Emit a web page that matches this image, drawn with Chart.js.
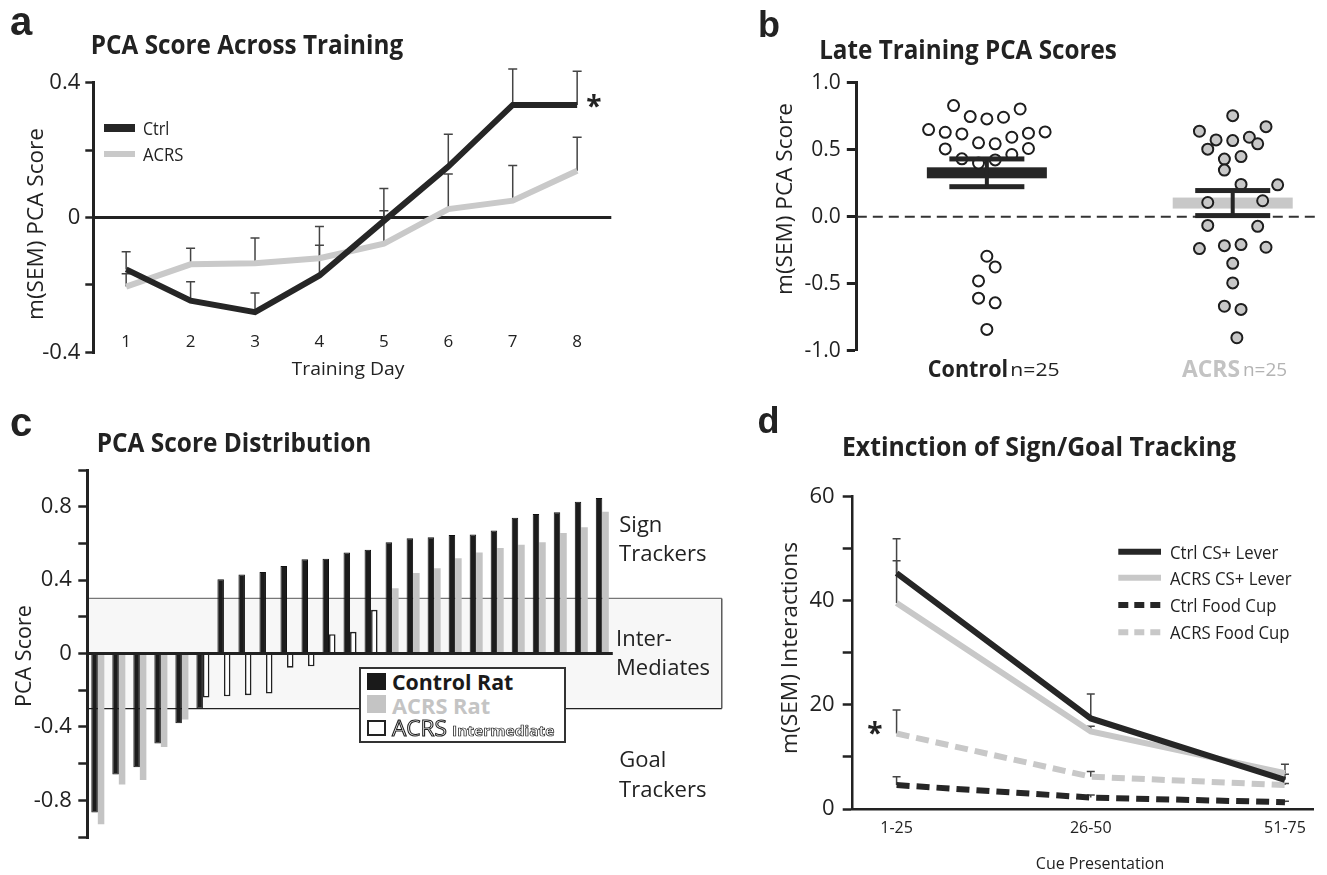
<!DOCTYPE html>
<html><head><meta charset="utf-8">
<script src="https://cdn.jsdelivr.net/npm/chart.js@4.4.1/dist/chart.umd.min.js"></script>
<style>
html,body{margin:0;padding:0;background:#fff;}
#root{position:relative;width:1327px;height:875px;overflow:hidden;font-family:'Open Sans',sans-serif;color:#222;}
canvas{position:absolute;}
.t{position:absolute;white-space:nowrap;line-height:1;}
.r{position:absolute;}
.o{color:#fff;-webkit-text-stroke:1px #222;will-change:transform;-webkit-font-smoothing:antialiased;}
</style></head><body><div id="root">
<canvas id="ca" width="660" height="420" style="left:0;top:0"></canvas>
<canvas id="cb" width="667" height="420" style="left:660px;top:0"></canvas>
<canvas id="cc" width="730" height="455" style="left:0;top:420px"></canvas>
<canvas id="cd" width="597" height="455" style="left:730px;top:420px"></canvas>

<!-- panel a -->
<div class="t" data-x="21" data-y="20.5" style="font:bold 40px 'Liberation Sans',Arial,sans-serif">a</div>
<div class="t" data-x="246.6" data-y="43" data-w="312" style="font:bold 27px 'Open Sans'">PCA Score Across Training</div>
<div class="t" data-x="33.7" data-y="224" data-w="192" data-rot="1" style="font:22px 'Open Sans'">m(SEM) PCA Score</div>
<div class="t" data-x="348" data-y="368" data-w="113" style="font:19px 'Open Sans'">Training Day</div>
<div class="r" style="left:104.3px;top:123.5px;width:30.7px;height:8.3px;background:#262626"></div>
<div class="r" style="left:104.3px;top:150.5px;width:30.7px;height:6.5px;background:#c9c9c9"></div>
<div class="t" data-a="l" data-x="143.3" data-y="127.7" data-w="26.7" style="font:18px 'Open Sans'">Ctrl</div>
<div class="t" data-a="l" data-x="143.3" data-y="154.3" data-w="40.7" style="font:18px 'Open Sans'">ACRS</div>
<div class="t" data-x="594" data-y="105" style="font:bold 28px 'Open Sans'">*</div>

<!-- panel b -->
<div class="t" data-x="769" data-y="25" style="font:bold 36px 'Liberation Sans',Arial,sans-serif">b</div>
<div class="t" data-x="968" data-y="48.3" data-w="298" style="font:bold 27px 'Open Sans'">Late Training PCA Scores</div>
<div class="t" data-x="783" data-y="199" data-w="192" data-rot="1" style="font:22px 'Open Sans'">m(SEM) PCA Score</div>
<div class="t" data-x="967.7" data-y="367" data-w="80" style="font:bold 24px 'Open Sans'">Control</div>
<div class="t" data-x="1035" data-y="369" data-w="49" style="font:19px 'Open Sans'">n=25</div>
<div class="t" data-x="1211" data-y="367" data-w="58" style="font:bold 24px 'Open Sans';color:#c3c3c3">ACRS</div>
<div class="t" data-x="1265" data-y="369" data-w="44" style="font:19px 'Open Sans';color:#b3b3b3">n=25</div>

<!-- panel c -->
<div class="t" data-x="21" data-y="421.5" style="font:bold 40px 'Liberation Sans',Arial,sans-serif">c</div>
<div class="t" data-x="234.2" data-y="440.7" data-w="275" style="font:bold 27px 'Open Sans'">PCA Score Distribution</div>
<div class="t" data-x="21.7" data-y="656" data-w="102" data-rot="1" style="font:22px 'Open Sans'">PCA Score</div>
<div class="t" data-a="l" data-x="619.3" data-y="523.3" style="font:22px 'Open Sans'">Sign</div>
<div class="t" data-a="l" data-x="619.3" data-y="551.7" data-w="87.3" style="font:22px 'Open Sans'">Trackers</div>
<div class="t" data-a="l" data-x="616" data-y="636.7" style="font:22px 'Open Sans'">Inter-</div>
<div class="t" data-a="l" data-x="616" data-y="666" style="font:22px 'Open Sans'">Mediates</div>
<div class="t" data-a="l" data-x="619.3" data-y="758.3" style="font:22px 'Open Sans'">Goal</div>
<div class="t" data-a="l" data-x="619.3" data-y="787.7" data-w="87.3" style="font:22px 'Open Sans'">Trackers</div>
<div class="r" style="left:359px;top:667.3px;width:206.7px;height:76px;border:2px solid #333;box-sizing:border-box;background:#fff"></div>
<div class="r" style="left:367.3px;top:673.3px;width:18.7px;height:16.7px;background:#1a1a1a"></div>
<div class="r" style="left:367.3px;top:695.3px;width:18.7px;height:17.4px;background:#c4c4c4"></div>
<div class="r" style="left:367.3px;top:720px;width:18.7px;height:15.5px;border:2px solid #222;box-sizing:border-box;background:#fff"></div>
<div class="t" data-a="l" data-x="391.7" data-y="681.7" data-w="121" style="font:bold 21px 'Open Sans';color:#1a1a1a">Control Rat</div>
<div class="t" data-a="l" data-x="392.3" data-y="706" data-w="97.7" style="font:bold 21px 'Open Sans';color:#c4c4c4">ACRS Rat</div>
<div class="t o" data-a="l" data-x="392.3" data-y="728.3" data-w="55" style="font:21px 'Open Sans'">ACRS</div>
<div class="t o" data-a="l" data-x="451.7" data-y="730" data-w="103" style="font:bold 14px 'Open Sans';-webkit-text-stroke:0.7px #222">Intermediate</div>

<!-- panel d -->
<div class="t" data-x="768.5" data-y="421" style="font:bold 36px 'Liberation Sans',Arial,sans-serif">d</div>
<div class="t" data-x="1039" data-y="445" data-w="394" style="font:bold 27px 'Open Sans'">Extinction of Sign/Goal Tracking</div>
<div class="t" data-x="788" data-y="647.5" data-w="211.7" data-rot="1" style="font:22px 'Open Sans'">m(SEM) Interactions</div>
<div class="t" data-x="1100" data-y="863" data-w="128" style="font:16px 'Open Sans'">Cue Presentation</div>
<svg class="r" style="left:1116px;top:538px" width="50" height="100">
  <line x1="2.3" y1="13.7" x2="45" y2="13.7" stroke="#262626" stroke-width="6"/>
  <line x1="2.3" y1="39.7" x2="45" y2="39.7" stroke="#c8c8c8" stroke-width="6"/>
  <line x1="2.3" y1="67" x2="45" y2="67" stroke="#262626" stroke-width="6" stroke-dasharray="10 6"/>
  <line x1="2.3" y1="94.3" x2="45" y2="94.3" stroke="#c8c8c8" stroke-width="6" stroke-dasharray="10 6"/>
</svg>
<div class="t" data-a="l" data-x="1170" data-y="551.7" data-w="108.3" style="font:19px 'Open Sans'">Ctrl CS+ Lever</div>
<div class="t" data-a="l" data-x="1170" data-y="577.7" data-w="121.7" style="font:19px 'Open Sans'">ACRS CS+ Lever</div>
<div class="t" data-a="l" data-x="1170" data-y="605" data-w="106.7" style="font:19px 'Open Sans'">Ctrl Food Cup</div>
<div class="t" data-a="l" data-x="1170" data-y="632.3" data-w="120" style="font:19px 'Open Sans'">ACRS Food Cup</div>
<div class="t" data-x="875" data-y="732" style="font:bold 28px 'Open Sans'">*</div>
</div>
<script>
// ---------------- DATA ----------------
// Panel a: PCA score across training days
const trainingDays = [1, 2, 3, 4, 5, 6, 7, 8];
const ctrlPca      = [-0.154, -0.247, -0.281, -0.172, -0.010, 0.151, 0.334, 0.334];
const ctrlPcaSem   = [0.052, 0.056, 0.057, 0.090, 0.096, 0.096, 0.107, 0.100];
const acrsPca      = [-0.205, -0.139, -0.136, -0.121, -0.078, 0.025, 0.050, 0.139];
const acrsPcaSem   = [0.038, 0.048, 0.075, 0.094, 0.098, 0.104, 0.104, 0.099];
const pcaTicksA    = [-0.4, -0.2, 0, 0.2, 0.4];

// Panel b: late training PCA scores (individual rats)
const groupNames = ['Control', 'ACRS'];
const lateCtrl = [0.829, 0.747, 0.730, 0.742, 0.804, 0.650, 0.630, 0.618, 0.551, 0.544, 0.593, 0.623, 0.633,
                  0.506, 0.432, 0.400, 0.424, 0.464, 0.509, -0.295, -0.375, -0.479, -0.608, -0.643, -0.841];
const lateCtrlSlot = [-2, -1, 0, 1, 2, -3.5, -2.5, -1.5, -0.5, 0.5, 1.5, 2.5, 3.5,
                      -2.5, -1.5, -0.5, 0.5, 1.5, 2.5, 0, 0.5, -0.5, -0.5, 0.5, 0];
const lateAcrs = [0.754, 0.638, 0.672, 0.573, 0.568, 0.593, 0.544, 0.504, 0.430, 0.449, 0.348, 0.241, 0.238,
                  0.106, 0.119, -0.065, -0.072, -0.238, -0.216, -0.208, -0.228, -0.348, -0.494, -0.668, -0.692, -0.903];
const lateAcrsSlot = [0, -2, 2, -1, 0, 1, 1.5, -1.5, -0.5, 0.5, -0.5, 0.5, 2.7,
                      -1.5, 1.8, -1.5, 1.5, -2, -0.5, 0.5, 2, 0, 0, -0.5, 0.5, 0.25];
const lateTicks = [-1, -0.5, 0, 0.5, 1];

// Panel c: PCA score distribution (ranked rats)
const distCtrl = [-0.866, -0.660, -0.620, -0.490, -0.380, -0.300, 0.404, 0.430, 0.444, 0.477, 0.514, 0.517, 0.550,
                  0.565, 0.606, 0.628, 0.634, 0.646, 0.648, 0.670, 0.740, 0.760, 0.770, 0.827, 0.847];
const distAcrs = [-0.930, -0.714, -0.690, -0.510, -0.360, -0.240, -0.233, -0.227, -0.218, -0.077, -0.070, 0.105, 0.118,
                  0.238, 0.355, 0.439, 0.464, 0.519, 0.550, 0.575, 0.592, 0.606, 0.656, 0.688, 0.772];
const ratRank = distCtrl.map((_, i) => String(i + 1));
const intermediateLimit = 0.3;

// Panel d: extinction of sign/goal tracking
const cueBlocks    = ['1-25', '26-50', '51-75'];
const ctrlLever    = [45.3, 17.4, 5.6];
const ctrlLeverSem = [6.6, 4.7, 1.1];
const acrsLever    = [39.6, 14.9, 6.9];
const acrsLeverSem = [8.1, 1.0, 1.7];
const ctrlCup      = [4.6, 2.2, 1.3];
const ctrlCupSem   = [1.6, 0.5, 0.2];
const acrsCup      = [14.5, 6.2, 4.6];
const acrsCupSem   = [4.5, 1.0, 0.3];

// ---------------- HELPERS ----------------
const fixW = w => s => { s.width = w; };
const fixH = h => s => { s.height = h; };
const setTicks = arr => s => { s.ticks = arr.map(v => ({ value: v })); };
const mean = a => a.reduce((s, v) => s + v, 0) / a.length;
const sem = a => { const m = mean(a); return Math.sqrt(a.reduce((s, v) => s + (v - m) ** 2, 0) / (a.length - 1) / a.length); };

const errorBars = {
  id: 'errorBars',
  beforeDatasetsDraw(chart, args, o) {
    const ctx = chart.ctx, xs = chart.scales.x, ys = chart.scales.y;
    ctx.save(); ctx.strokeStyle = o.color; ctx.lineWidth = o.width;
    chart.data.datasets.forEach(ds => {
      if (!ds.sem) return;
      ds.data.forEach((p, i) => {
        const x = xs.getPixelForValue(p.x), y0 = ys.getPixelForValue(p.y), y1 = ys.getPixelForValue(p.y + ds.sem[i]);
        ctx.beginPath(); ctx.moveTo(x, y0); ctx.lineTo(x, y1);
        ctx.moveTo(x - o.cap, y1); ctx.lineTo(x + o.cap, y1); ctx.stroke();
      });
    });
    ctx.restore();
  }
};

// x tick labels that sit inside the plot area (above the -0.4 level)
const innerXLabels = {
  id: 'innerXLabels',
  afterDraw(chart, args, o) {
    const ctx = chart.ctx, xs = chart.scales.x;
    ctx.save();
    ctx.font = `${o.size}px 'Open Sans'`; ctx.fillStyle = '#222';
    ctx.textAlign = 'center'; ctx.textBaseline = 'middle';
    o.values.forEach(v => ctx.fillText(String(v), xs.getPixelForValue(v), chart.chartArea.bottom - o.offset));
    ctx.restore();
  }
};

const meanSem = {
  id: 'meanSem',
  beforeDatasetsDraw(chart, args, o) {
    const ctx = chart.ctx, xs = chart.scales.x, ys = chart.scales.y, ca = chart.chartArea;
    ctx.save();
    ctx.strokeStyle = o.zeroColor; ctx.lineWidth = 2; ctx.setLineDash(o.zeroDash);
    const y0 = ys.getPixelForValue(0);
    ctx.beginPath(); ctx.moveTo(ca.left, y0); ctx.lineTo(ca.right, y0); ctx.stroke();
    ctx.setLineDash([]);
    chart.data.datasets.forEach((ds, gi) => {
      const vals = ds.data.map(p => p.y);
      const x = xs.getPixelForValue(gi + 1), y = ys.getPixelForValue(mean(vals));
      ctx.fillStyle = ds.meanColor;
      ctx.fillRect(x - o.meanHalf, y - o.meanThick / 2, 2 * o.meanHalf, o.meanThick);
    });
    ctx.restore();
  },
  afterDatasetsDraw(chart, args, o) {
    const ctx = chart.ctx, xs = chart.scales.x, ys = chart.scales.y;
    ctx.save(); ctx.fillStyle = o.semColor;
    chart.data.datasets.forEach((ds, gi) => {
      const vals = ds.data.map(p => p.y), m = mean(vals), s = sem(vals);
      const x = xs.getPixelForValue(gi + 1);
      const yt = ys.getPixelForValue(m + s), yb = ys.getPixelForValue(m - s);
      ctx.fillRect(x - o.stem / 2, yt, o.stem, yb - yt);
      ctx.fillRect(x - o.capHalf, yt - o.capThick / 2, 2 * o.capHalf, o.capThick);
      ctx.fillRect(x - o.capHalf, yb - o.capThick / 2, 2 * o.capHalf, o.capThick);
    });
    ctx.restore();
  }
};

const band = {
  id: 'band',
  beforeDraw(chart, args, o) {
    const ctx = chart.ctx, ys = chart.scales.y, ca = chart.chartArea;
    const yt = ys.getPixelForValue(o.limit), yb = ys.getPixelForValue(-o.limit), xr = ca.right + o.extend;
    ctx.save();
    ctx.fillStyle = '#f7f7f7'; ctx.fillRect(ca.left, yt, xr - ca.left, yb - yt);
    ctx.lineWidth = 1.3;
    ctx.strokeStyle = '#777'; ctx.beginPath(); ctx.moveTo(ca.left, yt); ctx.lineTo(xr, yt); ctx.stroke();
    ctx.strokeStyle = '#222'; ctx.beginPath(); ctx.moveTo(ca.left, yb); ctx.lineTo(xr, yb); ctx.stroke();
    ctx.strokeStyle = '#444'; ctx.beginPath(); ctx.moveTo(xr, yt); ctx.lineTo(xr, yb); ctx.stroke();
    ctx.restore();
  }
};

function placeText() {
  document.querySelectorAll('.t').forEach(el => {
    const cx = +el.dataset.x, cy = +el.dataset.y, w = el.dataset.w ? +el.dataset.w : 0;
    const nat = el.offsetWidth, s = w ? w / nat : 1;
    el.style.top = cy + 'px'; el.style.left = cx + 'px';
    if (el.dataset.a === 'l') {
      el.style.transformOrigin = '0 50%';
      el.style.transform = `translateY(-50%) scaleX(${s})`;
    } else {
      el.style.transform = `translate(-50%,-50%) ${el.dataset.rot ? 'rotate(-90deg)' : ''} scaleX(${s})`;
    }
  });
}

function build() {
  Chart.defaults.font.family = "'Open Sans', sans-serif";
  Chart.defaults.color = '#222';
  Chart.defaults.animation = false;
  Chart.defaults.events = [];
  Chart.defaults.plugins.legend.display = false;
  Chart.defaults.plugins.tooltip.enabled = false;

  // ---- Panel a ----
  new Chart(document.getElementById('ca'), {
    type: 'line',
    data: { datasets: [
      { label: 'Ctrl', data: trainingDays.map((d, i) => ({ x: d, y: ctrlPca[i] })), sem: ctrlPcaSem,
        borderColor: '#262626', borderWidth: 6, pointRadius: 0 },
      { label: 'ACRS', data: trainingDays.map((d, i) => ({ x: d, y: acrsPca[i] })), sem: acrsPcaSem,
        borderColor: '#c9c9c9', borderWidth: 6, pointRadius: 0 }
    ] },
    options: {
      responsive: false,
      layout: { padding: { top: 82.7, right: 48.7, left: 0, bottom: 0 } },
      plugins: { errorBars: { color: '#444', width: 1.5, cap: 4.5 },
                 innerXLabels: { values: trainingDays, size: 17, offset: 10.6 } },
      scales: {
        x: { type: 'linear', min: 0.49, max: 8.53, afterBuildTicks: setTicks(trainingDays), afterFit: fixH(67.7),
             border: { display: false }, grid: { display: false, drawTicks: false }, ticks: { display: false } },
        y: { min: -0.4, max: 0.4, afterBuildTicks: setTicks(pcaTicksA), afterFit: fixW(93.3),
             border: { color: '#222', width: 3 },
             grid: { color: c => (c.tick && c.tick.value === 0) ? '#222' : 'rgba(0,0,0,0)', lineWidth: 3,
                     tickColor: '#222', tickLength: 8, tickWidth: 2.5 },
             ticks: { padding: 5, font: { size: 22 },
                      callback: v => v === 0 ? '0' : (Math.abs(Math.abs(v) - 0.4) < 1e-9 ? v.toFixed(1) : '') } }
      }
    },
    plugins: [errorBars, innerXLabels]
  });

  // ---- Panel b ----
  const slotW = 0.0677;
  new Chart(document.getElementById('cb'), {
    type: 'scatter',
    data: { datasets: [
      { label: groupNames[0], data: lateCtrl.map((v, i) => ({ x: 1 + lateCtrlSlot[i] * slotW, y: v })),
        pointRadius: 5.5, pointBorderWidth: 2, pointBackgroundColor: '#fff', pointBorderColor: '#1e1e1e', meanColor: '#262626' },
      { label: groupNames[1], data: lateAcrs.map((v, i) => ({ x: 2 + lateAcrsSlot[i] * slotW, y: v })),
        pointRadius: 5.5, pointBorderWidth: 2, pointBackgroundColor: '#c8c8c8', pointBorderColor: '#1e1e1e', meanColor: '#c8c8c8' }
    ] },
    options: {
      responsive: false,
      layout: { padding: { top: 82.7, right: 6, left: 0, bottom: 69.3 } },
      plugins: { meanSem: { zeroColor: '#333', zeroDash: [10, 6], meanHalf: 60, meanThick: 11,
                            semColor: '#262626', stem: 4, capHalf: 37.5, capThick: 5 } },
      scales: {
        x: { type: 'linear', display: false, min: 0.471, max: 2.353 },
        y: { min: -1, max: 1, afterBuildTicks: setTicks(lateTicks), afterFit: fixW(196.8),
             border: { color: '#222', width: 3 },
             grid: { drawOnChartArea: false, tickColor: '#222', tickLength: 10, tickWidth: 3 },
             ticks: { padding: 6, font: { size: 21 }, callback: v => v.toFixed(1) } }
      }
    },
    plugins: [meanSem]
  });

  // ---- Panel c ----
  const isInter = v => Math.abs(v) < intermediateLimit;
  new Chart(document.getElementById('cc'), {
    type: 'bar',
    data: { labels: ratRank, datasets: [
      { label: 'Control Rat', data: distCtrl, backgroundColor: '#1c1c1c', borderColor: '#111', borderWidth: 1,
        categoryPercentage: 0.62, barPercentage: 1 },
      { label: 'ACRS Rat', data: distAcrs,
        backgroundColor: distAcrs.map(v => isInter(v) ? '#ffffff' : '#c4c4c4'),
        borderColor: distAcrs.map(v => isInter(v) ? '#222' : '#c4c4c4'),
        borderWidth: distAcrs.map(v => isInter(v) ? 1.6 : 0),
        categoryPercentage: 0.62, barPercentage: 1 }
    ] },
    options: {
      responsive: false,
      layout: { padding: { top: 50, right: 117.2, left: 0, bottom: 38 } },
      plugins: { band: { limit: intermediateLimit, extend: 109 } },
      scales: {
        x: { display: false },
        y: { min: -1, max: 1, ticks: { stepSize: 0.2, padding: 6.5, font: { size: 22 },
               callback: v => { const r = Math.round(v * 10); return (r % 4 === 0 && Math.abs(r) < 10) ? (r === 0 ? '0' : (r / 10).toFixed(1)) : ''; } },
             afterFit: fixW(87.3), border: { color: '#222', width: 3 },
             grid: { color: c => (c.tick && Math.abs(c.tick.value) < 1e-9) ? '#222' : 'rgba(0,0,0,0)', lineWidth: 3,
                     tickColor: '#222', tickLength: 9, tickWidth: 2.5 } }
      }
    },
    plugins: [band]
  });

  // ---- Panel d ----
  const mk = (label, vals, s, color, dash) => ({ label, data: vals.map((v, i) => ({ x: i, y: v })), sem: s,
    borderColor: color, borderWidth: 6, borderDash: dash, pointRadius: 0 });
  new Chart(document.getElementById('cd'), {
    type: 'line',
    data: { datasets: [
      mk('Ctrl CS+ Lever', ctrlLever, ctrlLeverSem, '#262626', []),
      mk('ACRS CS+ Lever', acrsLever, acrsLeverSem, '#c8c8c8', []),
      mk('Ctrl Food Cup', ctrlCup, ctrlCupSem, '#262626', [13, 7]),
      mk('ACRS Food Cup', acrsCup, acrsCupSem, '#c8c8c8', [13, 7])
    ] },
    options: {
      responsive: false,
      layout: { padding: { top: 76.7, right: 13.5, left: 0, bottom: 0 } },
      plugins: { errorBars: { color: '#444', width: 1.5, cap: 4 } },
      scales: {
        x: { type: 'linear', min: -0.226, max: 2.147, afterBuildTicks: setTicks(cueBlocks.map((_, i) => i)),
             afterFit: fixH(66), border: { color: '#222', width: 2.5 }, grid: { display: false, drawTicks: false },
             ticks: { padding: 10, font: { size: 16 }, callback: v => cueBlocks[v] } },
        y: { min: 0, max: 60, ticks: { stepSize: 10, padding: 8, font: { size: 22 }, callback: v => v % 20 === 0 ? String(v) : '' },
             afterFit: fixW(122.7), border: { color: '#222', width: 2.5 },
             grid: { drawOnChartArea: false, tickColor: '#222', tickLength: 10, tickWidth: 2.5 } }
      }
    },
    plugins: [errorBars]
  });
}

(async function () {
  try {
    await Promise.all([
      document.fonts.load("22px 'Open Sans'"),
      document.fonts.load("bold 22px 'Open Sans'"),
      document.fonts.load("bold 36px 'Liberation Sans'")
    ]);
  } catch (e) {}
  placeText();
  build();
})();
</script>
</body></html>
